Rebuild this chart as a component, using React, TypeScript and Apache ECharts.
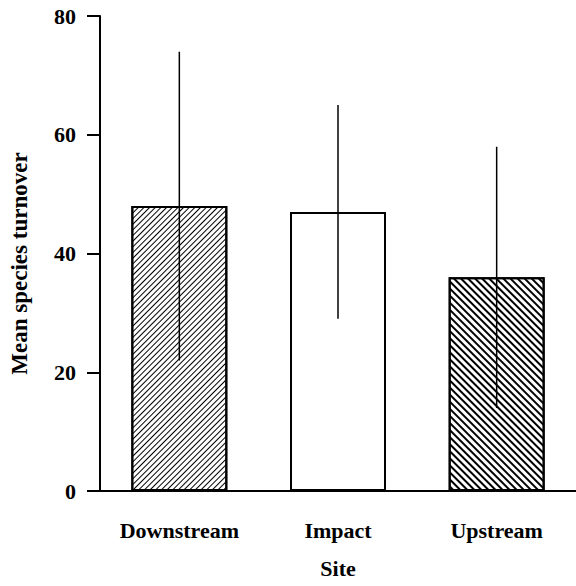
import React, { useEffect, useRef } from "react";
import * as echarts from "echarts";

const categories = ["Downstream", "Impact", "Upstream"];
const means = [48, 47, 36];
const errLow = [22, 29, 14];
const errHigh = [74, 65, 58];
const yTicks = { min: 0, max: 80, interval: 20 };

const FONT = "'Liberation Serif', 'Times New Roman', serif";

export default function App() {
  const ref = useRef<HTMLDivElement>(null);
  useEffect(() => {
    if (!ref.current) return;
    const chart = echarts.init(ref.current, null, { renderer: "svg" });
    const decals = [
      { symbol: "rect", symbolSize: 1, color: "#000", backgroundColor: "#fff", dashArrayX: [1, 0], dashArrayY: [1, 3], rotation: -Math.PI / 4 },
      null,
      { symbol: "rect", symbolSize: 1, color: "#000", backgroundColor: "#fff", dashArrayX: [1, 0], dashArrayY: [2, 3], rotation: Math.PI / 4 },
    ];
    const barData = means.map((v, i) => ({
      value: v,
      itemStyle: decals[i] ? { decal: decals[i] } : {},
    }));
    const errData = categories.map((c, i) => [i, errLow[i], errHigh[i]]);
    chart.setOption({
      animation: false,
      backgroundColor: "#fff",
      grid: { left: 100, right: 0, top: 16, bottom: 95, outerBoundsMode: "none", containLabel: false },
      xAxis: {
        type: "category",
        data: categories,
        name: "Site",
        nameLocation: "middle",
        nameGap: 66,
        nameTextStyle: { fontFamily: FONT, fontWeight: "bold", fontSize: 22, color: "#000" },
        axisLine: { lineStyle: { color: "#000", width: 2 } },
        axisTick: { alignWithLabel: true, length: 16, lineStyle: { color: "#000", width: 1.5 } },
        axisLabel: { margin: 28, fontFamily: FONT, fontWeight: "bold", fontSize: 22, color: "#000" },
      },
      yAxis: {
        type: "value",
        min: yTicks.min,
        max: yTicks.max,
        interval: yTicks.interval,
        name: "Mean species turnover",
        nameLocation: "middle",
        nameGap: 69,
        nameTextStyle: { fontFamily: FONT, fontWeight: "bold", fontSize: 23, color: "#000", padding: [0, 20, 0, 0] },
        axisLine: { show: true, lineStyle: { color: "#000", width: 2 } },
        axisTick: { show: true, length: 13, lineStyle: { color: "#000", width: 2 } },
        axisLabel: { margin: 24, fontFamily: FONT, fontWeight: "bold", fontSize: 22, color: "#000" },
        splitLine: { show: false },
      },
      series: [
        {
          type: "bar",
          data: barData,
          barWidth: "60.5%",
          itemStyle: { color: "#fff", borderColor: "#000", borderWidth: 2 },
          z: 2,
        },
        {
          type: "custom",
          data: errData,
          z: 5,
          renderItem: (params: any, api: any) => {
            const x = api.value(0);
            const lo = api.coord([x, api.value(1)]);
            const hi = api.coord([x, api.value(2)]);
            return {
              type: "line",
              shape: { x1: lo[0], y1: lo[1], x2: hi[0], y2: hi[1] },
              style: { stroke: "#000", lineWidth: 1.5 },
            };
          },
        },
      ],
    });
    return () => chart.dispose();
  }, []);
  return <div ref={ref} style={{ position: "absolute", left: 0, top: 0, width: 576, height: 586 }} />;
}
